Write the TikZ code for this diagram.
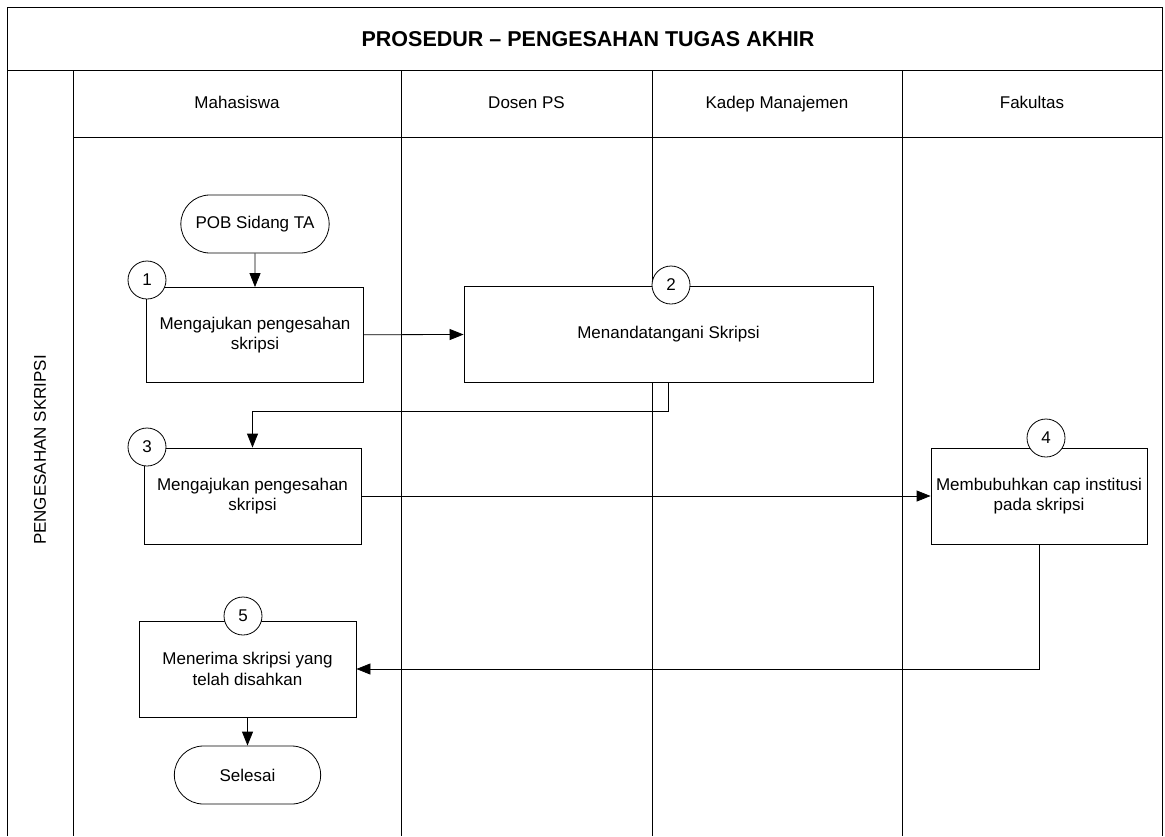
\documentclass[tikz,border=0pt]{standalone}
\usepackage{fontspec}
\setmainfont{Liberation Sans}
\usetikzlibrary{shapes.misc,arrows.meta}
\begin{document}
\begin{tikzpicture}[
			x=1pt, y=-1pt,
			font=\fontsize{17}{20.5}\selectfont,
			line width=0.8pt,
			jalur/.style={text height=12.5pt, text depth=3.5pt},
			proses/.style={draw, fill=white, align=center, inner sep=2pt, minimum height=96pt},
			terminal/.style={draw, fill=white, rounded rectangle, minimum width=155pt, minimum height=58pt},
			nomor/.style={draw, fill=white, circle, minimum size=38pt, inner sep=0pt},
			panah/.style={-{Triangle[length=14pt,width=11pt]}}
		]
		\useasboundingbox (0,0) rectangle (1165,836);

		% kerangka dan jalur
		\draw (7,836) -- (7,7) -- (1162,7) -- (1162,836);
		\draw (7,70) -- (1162,70);
		\draw (73,137) -- (1162,137);
		\draw (73,70) -- (73,836);
		\draw (401,70) -- (401,836);
		\draw (652,70) -- (652,836);
		\draw (902,70) -- (902,836);

		\node[font=\fontsize{21.5}{25}\selectfont\bfseries] (judul) at (588,39) {PROSEDUR -- PENGESAHAN TUGAS AKHIR};
		\node[rotate=90] (bagian) at (40,450) {PENGESAHAN SKRIPSI};
		\node[jalur] (mhs) at (237,104) {Mahasiswa};
		\node[jalur] (dosen) at (526.5,104) {Dosen PS};
		\node[jalur] (kadep) at (777,104) {Kadep Manajemen};
		\node[jalur] (fak) at (1032,104) {Fakultas};

		\node[terminal] (mulai) at (255,224) {POB Sidang TA};
		\node[proses, minimum width=217pt, minimum height=95pt] (p1) at (255,335) {Mengajukan pengesahan\\skripsi};
		\node[proses, minimum width=409pt] (p2) at (668.5,334) {Menandatangani Skripsi};
		\node[proses, minimum width=217pt] (p3) at (252.5,496) {Mengajukan pengesahan\\skripsi};
		\node[proses, minimum width=216pt] (p4) at (1039,496) {Membubuhkan cap institusi\\pada skripsi};
		\node[proses, minimum width=217pt] (p5) at (247.5,669) {Menerima skripsi yang\\telah disahkan};
		\node[terminal, minimum width=153pt] (selesai) at (247.5,775) {Selesai};

		\node[nomor] (n1) at (147,280) {1};
		\node[nomor] (n2) at (671,285) {2};
		\node[nomor] (n3) at (147,447) {3};
		\node[nomor] (n4) at (1046,438) {4};
		\node[nomor] (n5) at (243,616) {5};

		\draw[panah] (mulai) -- (p1);
		\draw[panah] (p1) -- (p2);
		\draw[panah] (p2.south) -- ++(0,29) -| (p3.north);
		\draw[panah] (p3) -- (p4);
		\draw[panah] (p4.south) |- (p5.east);
		\draw[panah] (p5) -- (selesai);
	\end{tikzpicture}
\end{document}
